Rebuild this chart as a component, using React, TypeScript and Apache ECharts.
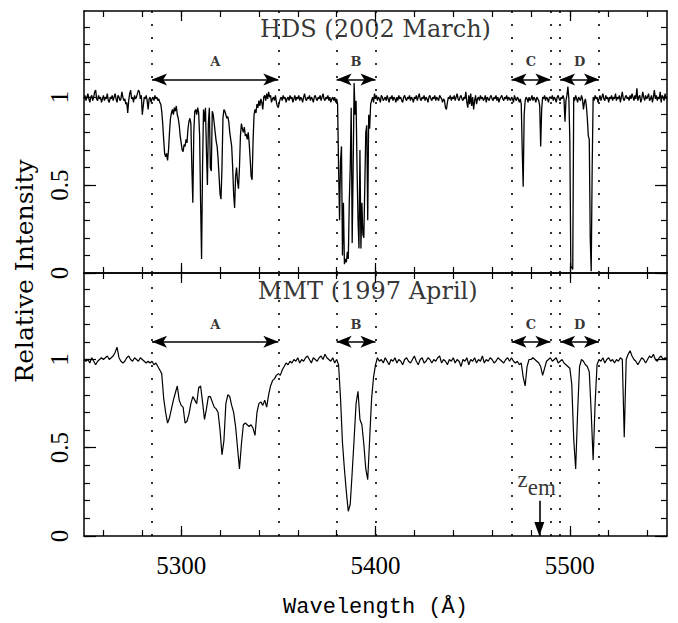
import React, { useEffect, useRef } from "react";
import * as echarts from "echarts";

// ---------------- data ----------------
const X_MIN = 5250;
const X_MAX = 5550;
const Y_MIN = 0;
const Y_MAX = 1.49;

// HDS spectrum: relative intensity ×100, sampled every 0.5 Å from 5250 Å
const hdsStart = 5250;
const hdsStep = 0.5;
const hdsFlux = [
  99, 101, 98, 100, 102, 99, 97, 100, 101, 98,
  100, 103, 104, 99, 98, 101, 99, 100, 97, 99,
  101, 98, 100, 99, 102, 98, 97, 100, 99, 101,
  98, 100, 102, 99, 97, 101, 100, 98, 99, 103,
  100, 98, 99, 96, 97, 91, 98, 102, 104, 99,
  100, 97, 101, 99, 100, 102, 104, 103, 99, 101,
  90, 95, 100, 99, 101, 98, 93, 99, 100, 97,
  99, 100, 98, 101, 99, 100, 98, 99, 97, 96,
  92, 85, 76, 68, 66, 68, 64, 70, 80, 88,
  91, 93, 90, 94, 92, 95, 90, 88, 84, 78,
  74, 70, 69, 73, 72, 76, 74, 82, 86, 88,
  85, 60, 40, 80, 92, 93, 90, 94, 91, 78,
  40, 8, 60, 93, 86, 94, 70, 50, 85, 94,
  60, 58, 92, 90, 85, 80, 75, 72, 65, 55,
  45, 42, 60, 88, 93, 92, 90, 88, 89, 86,
  80, 76, 72, 60, 45, 37, 55, 60, 52, 48,
  60, 78, 85, 82, 80, 83, 78, 79, 76, 80,
  74, 65, 55, 53, 75, 90, 93, 91, 96, 94,
  98, 95, 99, 97, 93, 100, 101, 98, 102, 99,
  103, 100, 101, 97, 99, 100, 98, 101, 97, 95,
  94, 97, 99, 100, 98, 101, 99, 100, 97, 99,
  100, 98, 101, 99, 100, 97, 99, 101, 98, 100,
  99, 101, 98, 100, 99, 97, 100, 102, 99, 98,
  100, 99, 101, 98, 100, 99, 97, 100, 101, 99,
  98, 100, 99, 101, 98, 100, 102, 99, 98, 100,
  99, 101, 98, 100, 97, 99, 100, 98, 100, 97,
  99, 96, 60, 30, 64, 72, 10, 40, 5, 8,
  6, 12, 8, 40, 60, 94, 17, 60, 108, 90,
  98, 60, 30, 14, 70, 14, 40, 22, 20, 50,
  80, 84, 30, 90, 82, 96, 98, 100, 97, 102,
  99, 101, 98, 100, 99, 97, 101, 100, 98, 99,
  100, 98, 101, 99, 97, 100, 99, 101, 98, 100,
  99, 97, 100, 98, 101, 99, 100, 98, 97, 100,
  101, 99, 98, 100, 99, 101, 98, 100, 99, 97,
  100, 99, 101, 98, 100, 102, 99, 98, 100, 99,
  101, 98, 100, 99, 97, 100, 101, 99, 98, 100,
  99, 101, 98, 100, 99, 98, 101, 100, 99, 97,
  99, 98, 94, 93, 97, 100, 99, 101, 98, 100,
  99, 101, 98, 100, 102, 99, 98, 100, 101, 99,
  98, 100, 99, 103, 97, 94, 101, 96, 102, 95,
  100, 93, 98, 101, 96, 99, 100, 98, 101, 99,
  100, 98, 99, 101, 97, 100, 99, 98, 100, 101,
  99, 98, 100, 99, 101, 98, 100, 97, 99, 100,
  101, 99, 98, 100, 99, 101, 98, 100, 99, 98,
  100, 99, 97, 101, 99, 98, 100, 99, 97, 99,
  96, 70, 49, 90, 98, 100, 99, 97, 100, 98,
  99, 101, 98, 100, 99, 97, 100, 99, 98, 95,
  72, 93, 100, 99, 101, 98, 100, 99, 97, 100,
  100, 99, 101, 98, 100, 99, 97, 100, 101, 99,
  98, 100, 99, 101, 99, 86, 98, 101, 106, 99,
  76, 4, 3, 2, 100, 98, 101, 99, 97, 100,
  99, 98, 101, 99, 93, 97, 99, 95, 88, 78,
  76, 20, 1, 60, 100, 98, 101, 99, 100, 97,
  99, 101, 98, 100, 102, 99, 98, 101, 99, 100,
  97, 100, 99, 101, 98, 100, 99, 102, 98, 100,
  99, 101, 97, 100, 103, 99, 98, 100, 101, 99,
  100, 98, 101, 99, 102, 100, 98, 101, 99, 105,
  98, 100, 101, 97, 99, 103, 100, 98, 101, 99,
  100, 102, 98, 99, 101, 97, 100, 104, 99, 101,
  98, 100, 99, 103, 97, 101, 100, 98, 102, 99,
  100,
];

// MMT spectrum: relative intensity ×100, sampled every 1 Å from 5250 Å
const mmtStart = 5250;
const mmtStep = 1;
const mmtFlux = [
  100, 99, 100, 98, 101, 99, 97, 99, 100, 101,
  100, 101, 102, 100, 101, 102, 104, 107, 101, 99,
  98, 99, 101, 102, 100, 99, 101, 100, 99, 101,
  100, 99, 98, 99, 98, 99, 97, 98, 96, 94,
  92, 78, 70, 64, 67, 72, 77, 81, 85, 77,
  74, 73, 64, 65, 69, 75, 79, 77, 75, 84,
  85, 76, 66, 72, 79, 79, 76, 73, 72, 70,
  60, 46, 54, 75, 80, 79, 74, 70, 62, 50,
  38, 52, 63, 64, 63, 62, 63, 61, 57, 70,
  75, 76, 74, 77, 73, 80, 85, 88, 89, 91,
  92, 91, 94, 96, 98, 97, 99, 98, 100, 99,
  101, 98, 100, 99, 101, 102, 100, 98, 101, 100,
  99, 101, 102, 100, 103, 101, 100, 99, 101, 98,
  100, 97, 78, 53, 38, 25, 14, 18, 36, 55,
  75, 82, 66, 63, 52, 38, 32, 55, 78, 90,
  97, 101, 99, 100, 98, 101, 99, 97, 100, 99,
  101, 98, 100, 99, 97, 100, 101, 99, 98, 100,
  102, 99, 97, 100, 101, 98, 99, 101, 100, 98,
  100, 99, 101, 102, 98, 100, 99, 97, 100, 99,
  101, 98, 100, 99, 96, 100, 99, 101, 97, 100,
  99, 101, 98, 100, 99, 102, 98, 100, 99, 101,
  100, 98, 99, 101, 100, 99, 98, 100, 101, 99,
  101, 99, 98, 99, 97, 98, 90, 85, 96, 100,
  100, 101, 100, 99, 98, 96, 91, 95, 99, 100,
  101, 99, 100, 101, 98, 99, 100, 98, 97, 96,
  95, 86, 55, 38, 70, 96, 100, 99, 97, 96,
  93, 70, 43, 75, 97, 100, 99, 101, 98, 100,
  101, 99, 100, 98, 100, 99, 101, 100, 56, 100,
  103, 105, 102, 100, 99, 97, 99, 101, 100, 98,
  100, 102, 101, 103, 100, 99, 101, 102, 100, 101,
  100,
];

// absorption systems (dotted boundaries and labelled arrows)
const regionNames = ["A", "B", "C", "D"];
const regionFrom = [5285, 5380, 5470, 5495];
const regionTo = [5350, 5400, 5490, 5515];
const arrowLevel = 1.1;
const regionLabelLevel = 1.2;

// emission redshift marker
const zemWavelength = 5484.3;
const zemArrowTop = 0.2;
const zemLabelParts = ["z", "em"];
const zemLabelX = [5475.7, 5485.6];
const zemLabelY = [0.318, 0.273];

const panelTitles = ["HDS (2002 March)", "MMT (1997 April)"];
const panelTitleX = [5400, 5396];
const panelTitleY = 1.39;

// ticks
const xMajorTicks = [5300, 5400, 5500];
const xMinorTicks = [
  5260, 5280, 5300, 5320, 5340, 5360, 5380, 5400, 5420, 5440, 5460, 5480,
  5500, 5520, 5540,
];
const yMajorTicks = [0, 0.5, 1];
const yMinorTicks = [0, 0.1, 0.2, 0.3, 0.4, 0.5, 0.6, 0.7, 0.8, 0.9, 1, 1.1, 1.2, 1.3, 1.4];

// ---------------- styling ----------------
const SERIF = "'Liberation Serif', 'DejaVu Serif', serif";
const DSERIF = "'DejaVu Serif', serif";
const MONO = "'Liberation Mono', 'DejaVu Sans Mono', monospace";
const INK = "#000";

function xAxisDef(gridIndex: number, position: string, ticks: number[], len: number, line: boolean, labels = false, name = "") {
  return {
    type: "value",
    gridIndex,
    position,
    min: X_MIN,
    max: X_MAX,
    name,
    nameLocation: "middle",
    nameGap: 60,
    nameTextStyle: { fontFamily: MONO, fontSize: 22, color: INK },
    axisLine: { show: line, onZero: false, lineStyle: { color: INK, width: 1.5 } },
    axisTick: { show: true, inside: true, length: len, customValues: ticks, lineStyle: { color: INK, width: 1.2 } },
    axisLabel: labels
      ? { show: true, customValues: xMajorTicks, margin: 17, color: INK, fontFamily: SERIF, fontSize: 25, formatter: (v: number) => String(v) }
      : { show: false },
    splitLine: { show: false },
  };
}

function yAxisDef(gridIndex: number, position: string, ticks: number[], len: number, line: boolean, labels = false) {
  return {
    type: "value",
    gridIndex,
    position,
    min: Y_MIN,
    max: Y_MAX,
    axisLine: { show: line, onZero: false, lineStyle: { color: INK, width: 1.5 } },
    axisTick: { show: true, inside: true, length: len, customValues: ticks, lineStyle: { color: INK, width: 1.2 } },
    axisLabel: labels
      ? { show: true, customValues: yMajorTicks, rotate: 90, margin: 12, color: INK, fontFamily: SERIF, fontSize: 25, formatter: (v: number) => String(v) }
      : { show: false },
    splitLine: { show: false },
  };
}

function buildOption() {
  const hdsData = hdsFlux.map((v, i) => [hdsStart + i * hdsStep, v / 100]);
  const mmtData = mmtFlux.map((v, i) => [mmtStart + i * mmtStep, v / 100]);

  const bounds: number[] = [];
  regionFrom.forEach((f, i) => {
    bounds.push(f, regionTo[i]);
  });
  const dotted = {
    silent: true,
    symbol: ["none", "none"],
    label: { show: false },
    lineStyle: { color: INK, width: 1.6, type: [2, 11], opacity: 1 },
    emphasis: { disabled: true },
    data: bounds.map((b) => ({ xAxis: b })),
  };

  const arrowEnd = (x: number, y: number) => ({
    coord: [x, y],
    symbol: "arrow",
    symbolSize: [9, 15],
  });
  const regionArrows = regionNames.map((_, i) => [arrowEnd(regionFrom[i], arrowLevel), arrowEnd(regionTo[i], arrowLevel)]);
  const arrowMark = (extra: any[] = []) => ({
    silent: true,
    label: { show: false },
    lineStyle: { color: INK, width: 1.6, type: "solid", opacity: 1 },
    emphasis: { disabled: true },
    data: [...regionArrows, ...extra],
  });

  const zemArrow = [
    { coord: [zemWavelength, zemArrowTop], symbol: "none" },
    { coord: [zemWavelength, 0], symbol: "triangle", symbolSize: [10, 14], symbolOffset: [0, "50%"] },
  ];

  const labelSeries = (xi: number, yi: number, title: string, titleX: number, extra: any[] = []) => ({
    type: "scatter",
    xAxisIndex: xi,
    yAxisIndex: yi,
    symbolSize: 0,
    silent: true,
    data: [
      ...regionNames.map((n, i) => ({
        value: [(regionFrom[i] + regionTo[i]) / 2, regionLabelLevel],
        label: { show: true, position: "inside", formatter: n, fontFamily: DSERIF, fontWeight: "bold", fontSize: 13, color: INK },
      })),
      {
        value: [titleX, panelTitleY],
        label: { show: true, position: "inside", formatter: title, fontFamily: DSERIF, fontSize: 24, color: INK },
      },
      ...extra,
    ],
  });

  const zemLabels = zemLabelParts.map((t, i) => ({
    value: [zemLabelX[i], zemLabelY[i]],
    label: { show: true, position: "inside", formatter: t, fontFamily: SERIF, fontSize: 23, color: INK },
  }));

  return {
    animation: false,
    backgroundColor: "#fff",
    grid: [
      { left: 84, top: 11, width: 583, height: 262 },
      { left: 84, top: 273, width: 583, height: 263 },
    ],
    xAxis: [
      xAxisDef(0, "bottom", xMinorTicks, 6, true),
      xAxisDef(0, "bottom", xMajorTicks, 10, false),
      xAxisDef(0, "top", xMinorTicks, 6, true),
      xAxisDef(0, "top", xMajorTicks, 10, false),
      xAxisDef(1, "bottom", xMinorTicks, 6, true),
      xAxisDef(1, "bottom", xMajorTicks, 10, false, true, "Wavelength (Å)"),
      xAxisDef(1, "top", xMinorTicks, 6, true),
      xAxisDef(1, "top", xMajorTicks, 10, false),
    ],
    yAxis: [
      yAxisDef(0, "left", yMinorTicks, 6, true),
      yAxisDef(0, "left", yMajorTicks, 12, false, true),
      yAxisDef(0, "right", yMinorTicks, 6, true),
      yAxisDef(0, "right", yMajorTicks, 12, false),
      yAxisDef(1, "left", yMinorTicks, 6, true),
      yAxisDef(1, "left", yMajorTicks, 12, false, true),
      yAxisDef(1, "right", yMinorTicks, 6, true),
      yAxisDef(1, "right", yMajorTicks, 12, false),
    ],
    graphic: [
      {
        type: "text",
        x: 24,
        y: 271,
        rotation: Math.PI / 2,
        silent: true,
        style: {
          text: "Relative Intensity",
          fontFamily: DSERIF,
          fontSize: 25,
          fill: INK,
          align: "center",
          verticalAlign: "middle",
          textAlign: "center",
          textVerticalAlign: "middle",
        },
      },
    ],
    series: [
      {
        type: "line",
        name: "HDS",
        xAxisIndex: 0,
        yAxisIndex: 0,
        data: hdsData,
        showSymbol: false,
        symbol: "none",
        silent: true,
        lineStyle: { color: INK, width: 1.3 },
        markLine: dotted,
      },
      {
        type: "line",
        name: "MMT",
        xAxisIndex: 4,
        yAxisIndex: 4,
        data: mmtData,
        showSymbol: false,
        symbol: "none",
        silent: true,
        lineStyle: { color: INK, width: 1.2 },
        markLine: dotted,
      },
      { type: "line", xAxisIndex: 0, yAxisIndex: 0, data: [], markLine: arrowMark() },
      { type: "line", xAxisIndex: 4, yAxisIndex: 4, data: [], markLine: arrowMark([zemArrow]) },
      labelSeries(0, 0, panelTitles[0], panelTitleX[0]),
      labelSeries(4, 4, panelTitles[1], panelTitleX[1], zemLabels),
    ],
  };
}

export default function App() {
  const ref = useRef<HTMLDivElement | null>(null);
  useEffect(() => {
    if (!ref.current) return;
    const chart = echarts.init(ref.current, undefined, { renderer: "svg" });
    chart.setOption(buildOption() as any);
    return () => chart.dispose();
  }, []);
  return (
    <div
      ref={ref}
      style={{ position: "fixed", left: 0, top: 0, width: 678, height: 623, background: "#fff" }}
    />
  );
}
